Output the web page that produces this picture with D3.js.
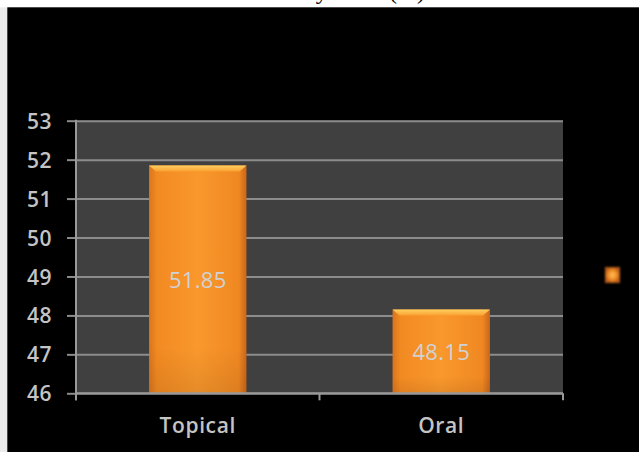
<!DOCTYPE html>
<html><head><meta charset="utf-8">
<script src="https://cdn.jsdelivr.net/npm/d3@7"></script>
<style>html,body{margin:0;padding:0;background:#fff;}svg{display:block;}</style>
</head><body>
<svg id="chart" width="639" height="452"></svg>
<script>
const categories = ["Topical", "Oral"];
const values = [51.85, 48.15];
const yTicks = [46, 47, 48, 49, 50, 51, 52, 53];
const titleText = "Distribution of cases by route (%)";

const svg = d3.select("#chart");
const W = 639, H = 452;
const plot = {left: 76, right: 563, top: 120.7, bottom: 393.3};

// backgrounds
svg.append("rect").attr("x",0).attr("y",0).attr("width",W).attr("height",H).attr("fill","#ffffff");
svg.append("rect").attr("x",0).attr("y",7.3).attr("width",7.3).attr("height",H).attr("fill","#ececec");
svg.append("rect").attr("x",7.3).attr("y",7.3).attr("width",W).attr("height",H).attr("fill","#000000");

// cropped title (only descenders visible, as in the reference)
svg.append("text").attr("x",425).attr("y",-1.5).attr("text-anchor","end")
  .attr("font-family","Liberation Serif").attr("font-size",24).attr("fill","#000")
  .text(titleText);

const defs = svg.append("defs");
const g1 = defs.append("linearGradient").attr("id","barGrad").attr("x1","0").attr("x2","1").attr("y1","0").attr("y2","0");
[["0%","#d9741c"],["8%","#f28a22"],["50%","#f9982c"],["92%","#f08822"],["100%","#c9661a"]].forEach(s=>g1.append("stop").attr("offset",s[0]).attr("stop-color",s[1]));
const g2 = defs.append("linearGradient").attr("id","barV").attr("x1","0").attr("x2","0").attr("y1","0").attr("y2","1");
[["0%","#ffffff","0.0"],["80%","#000000","0.0"],["100%","#000000","0.08"]].forEach(s=>g2.append("stop").attr("offset",s[0]).attr("stop-color",s[1]).attr("stop-opacity",s[2]));
const g3 = defs.append("linearGradient").attr("id","bevel").attr("x1","0").attr("x2","0").attr("y1","0").attr("y2","1");
[["0%","#ffd060"],["100%","#f9a030"]].forEach(s=>g3.append("stop").attr("offset",s[0]).attr("stop-color",s[1]));
const rg = defs.append("radialGradient").attr("id","legGrad");
[["0%","#ffc060"],["60%","#f08a20"],["100%","#b0581a"]].forEach(s=>rg.append("stop").attr("offset",s[0]).attr("stop-color",s[1]));
defs.append("filter").attr("id","soft").append("feGaussianBlur").attr("stdDeviation",0.9);

// plot bg
svg.append("rect").attr("x",plot.left).attr("y",plot.top).attr("width",plot.right-plot.left)
  .attr("height",plot.bottom-plot.top).attr("fill","#404040");

const y = d3.scaleLinear().domain([46,53]).range([plot.bottom, plot.top]);
const x = d3.scaleBand().domain(categories).range([plot.left, plot.right]).paddingInner(0.6).paddingOuter(0.3);

// gridlines + y ticks
const yAxis = d3.axisLeft(y).tickValues(yTicks).tickSize(-(plot.right-plot.left)).tickPadding(24).tickFormat(d3.format("d"));
const ya = svg.append("g").attr("transform",`translate(${plot.left},0)`).call(yAxis);
ya.select(".domain").remove();
ya.selectAll(".tick line").attr("stroke","#8c8c8c").attr("stroke-width",2);
ya.selectAll(".tick").append("line").attr("x1",-9).attr("x2",0).attr("stroke","#8c8c8c").attr("stroke-width",2);
ya.selectAll(".tick text").attr("fill","#c4c4c4").attr("font-family","Open Sans").attr("font-size",21).attr("font-weight",600).attr("letter-spacing",0.5).attr("dy","0.36em");

// bars
const bars = svg.append("g");
categories.forEach((c,i)=>{
  const bx = x(c), bw = x.bandwidth(), by = y(values[i]), bh = plot.bottom - y(values[i]);
  bars.append("rect").attr("x",bx).attr("y",by).attr("width",bw).attr("height",bh).attr("fill","url(#barGrad)");
  bars.append("rect").attr("x",bx).attr("y",by).attr("width",bw).attr("height",bh).attr("fill","url(#barV)");
  bars.append("path").attr("d",`M${bx},${by}L${bx+bw},${by}L${bx+bw-7},${by+6}L${bx+7},${by+6}Z`).attr("fill","url(#bevel)");
  bars.append("text").attr("x",bx+bw/2).attr("y",(by+plot.bottom)/2).attr("dy","0.4em")
    .attr("text-anchor","middle").attr("fill","#cfd2d6").attr("font-family","Open Sans").attr("font-size",22)
    .attr("letter-spacing",0.3)
    .text(values[i].toFixed(2));
});

// axes lines
const ax = svg.append("g").attr("stroke","#999").attr("stroke-width",2);
ax.append("line").attr("x1",plot.left).attr("x2",plot.left).attr("y1",plot.top-1).attr("y2",plot.bottom+7);
ax.append("line").attr("x1",plot.left).attr("x2",plot.right).attr("y1",plot.bottom).attr("y2",plot.bottom);
[plot.left, (plot.left+plot.right)/2, plot.right].forEach(tx=>{
  ax.append("line").attr("x1",tx).attr("x2",tx).attr("y1",plot.bottom).attr("y2",plot.bottom+7);
});

// category labels
const xAxis = d3.axisBottom(x).tickSize(0).tickPadding(0);
const xa = svg.append("g").attr("transform",`translate(0,${plot.bottom})`).call(xAxis);
xa.select(".domain").remove();
xa.selectAll(".tick text").attr("y",40).attr("dy",0).attr("fill","#c4c4c4").attr("font-family","Open Sans").attr("font-size",21).attr("font-weight",600).attr("letter-spacing",0.6);

// legend marker
svg.append("rect").attr("x",605).attr("y",267).attr("width",15).attr("height",16).attr("fill","url(#legGrad)").attr("filter","url(#soft)");
</script>
</body></html>
